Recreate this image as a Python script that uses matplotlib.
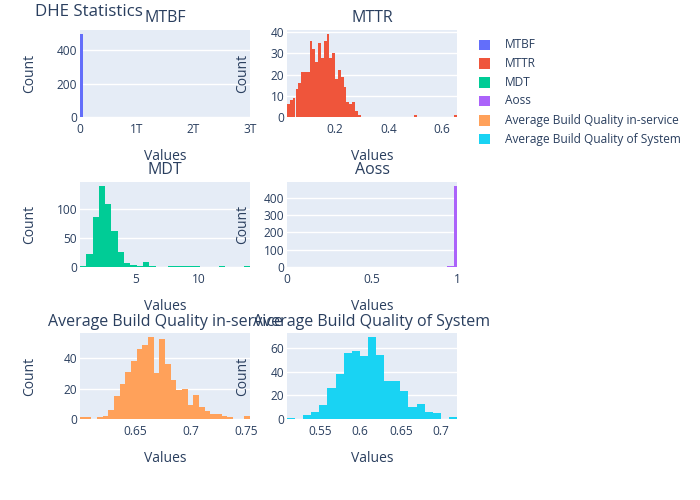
import matplotlib.pyplot as plt
from matplotlib.patches import Rectangle

plt.rcParams['font.family'] = ['Open Sans', 'DejaVu Sans']

TEXT = '#2a3f5f'
BG = '#E5ECF6'

names = ['MTBF', 'MTTR', 'MDT', 'Aoss',
         'Average Build Quality in-service', 'Average Build Quality of System']
colors = ['#636efa', '#EF553B', '#00cc96', '#ab63fa', '#FFA15A', '#19d3f3']

# histograms: bin left edges (or first edge), bin width, counts
mtbf_lefts = [0.0, 2.95e12]
mtbf_width = 5e10
mtbf_counts = [495, 1]

mttr_start = 0.02
mttr_width = 0.0106
mttr_counts = [6, 8, 9, 13, 16, 21, 21, 21, 36, 32, 26, 35, 28, 36, 39, 28, 30, 18, 22, 19,
               14, 7, 6, 7, 3, 1, 0, 0, 0, 0, 0, 0, 0, 0, 0, 0, 0, 0, 0, 0,
               0, 0, 0, 0, 0, 1, 0, 0, 0, 0, 0, 0, 0, 0, 0, 0, 0, 0, 0, 1]

mdt_start = 0.55
mdt_width = 0.5
mdt_counts = [1, 23, 86, 139, 108, 62, 25, 7, 4, 1, 9, 1, 0, 0, 2, 1, 1, 1, 1, 0,
              0, 0, 1, 0, 0, 0, 1]

aoss_lefts = [0.0, 0.94, 0.96, 0.98]
aoss_width = 0.02
aoss_counts = [1, 3, 5, 467]

absi_start = 0.6005
absi_width = 0.0051
absi_counts = [1, 1, 0, 1, 2, 6, 15, 23, 31, 38, 46, 49, 54, 30, 53, 36, 26, 19, 20, 9,
               16, 8, 5, 3, 3, 2, 1, 0, 0, 2]

abss_start = 0.5095
abss_width = 0.01
abss_counts = [1, 0, 3, 6, 12, 26, 38, 56, 57, 53, 69, 54, 32, 32, 24, 10, 13, 6, 5, 0, 2]

# tick positions and labels
x_ticks = [[0, 1e12, 2e12, 3e12], [0.2, 0.4, 0.6], [5, 10], [0, 0.5, 1],
           [0.65, 0.7, 0.75], [0.55, 0.6, 0.65, 0.7]]
x_labels = [['0', '1T', '2T', '3T'], ['0.2', '0.4', '0.6'], ['5', '10'], ['0', '0.5', '1'],
            ['0.65', '0.7', '0.75'], ['0.55', '0.6', '0.65', '0.7']]
y_ticks = [[0, 200, 400], [0, 10, 20, 30, 40], [0, 50, 100], [0, 100, 200, 300, 400],
           [0, 20, 40], [0, 20, 40, 60]]


def edges_from_start(start, width, counts):
    return [start + i * width for i in range(len(counts))]


series = [
    (mtbf_lefts, mtbf_width, mtbf_counts),
    (edges_from_start(mttr_start, mttr_width, mttr_counts), mttr_width, mttr_counts),
    (edges_from_start(mdt_start, mdt_width, mdt_counts), mdt_width, mdt_counts),
    (aoss_lefts, aoss_width, aoss_counts),
    (edges_from_start(absi_start, absi_width, absi_counts), absi_width, absi_counts),
    (edges_from_start(abss_start, abss_width, abss_counts), abss_width, abss_counts),
]

W, H = 700, 500
fig = plt.figure(figsize=(7, 5), dpi=100)


def fx(x):
    return x / W


def fy(y):
    return 1 - y / H


col_left = [80, 287]
col_w = 170
row_top = [30, 182, 333]
row_h = [87, 85, 86]

for i, (lefts, width, counts) in enumerate(series):
    r, c = divmod(i, 2)
    x0, y0, h = col_left[c], row_top[r], row_h[r]
    ax = fig.add_axes([fx(x0), fy(y0 + h), col_w / W, h / H])
    ax.set_facecolor(BG)
    ax.bar(lefts, counts, width=width, align='edge', color=colors[i], linewidth=0)
    ax.set_xlim(lefts[0], lefts[-1] + width)
    ax.set_ylim(0, max(counts) * 1.05)
    ax.set_xticks(x_ticks[i])
    ax.set_xticklabels(x_labels[i])
    ax.set_yticks(y_ticks[i])
    ax.grid(axis='y', color='white', linewidth=1)
    ax.set_axisbelow(True)
    for s in ax.spines.values():
        s.set_visible(False)
    ax.tick_params(axis='both', length=0, colors=TEXT, labelsize=8.6)
    ax.tick_params(axis='x', pad=4)
    ax.tick_params(axis='y', pad=2)

    cx = x0 + col_w / 2
    fig.text(fx(cx), fy(y0 - 11.5), names[i], ha='center', va='center',
             fontsize=11.5, color=TEXT)
    fig.text(fx(cx), fy(y0 + h + 39.5), 'Values', ha='center', va='center',
             fontsize=10, color=TEXT)
    lx = 30 if c == 0 else 243
    fig.text(fx(lx), fy(y0 + h / 2), 'Count', ha='center', va='center',
             rotation=90, fontsize=10, color=TEXT)

fig.text(fx(35), fy(11.5), 'DHE Statistics', ha='left', va='center',
         fontsize=12.2, color=TEXT)

# legend
leg_y = [45, 63.5, 82.5, 101, 120.5, 139.5]
for name, color, y in zip(names, colors, leg_y):
    fig.add_artist(Rectangle((fx(479), fy(y + 5)), 11 / W, 10 / H,
                             transform=fig.transFigure, facecolor=color, linewidth=0))
    fig.text(fx(505), fy(y), name, ha='left', va='center', fontsize=8.6, color=TEXT)

fig.savefig('out.png', dpi=100)
